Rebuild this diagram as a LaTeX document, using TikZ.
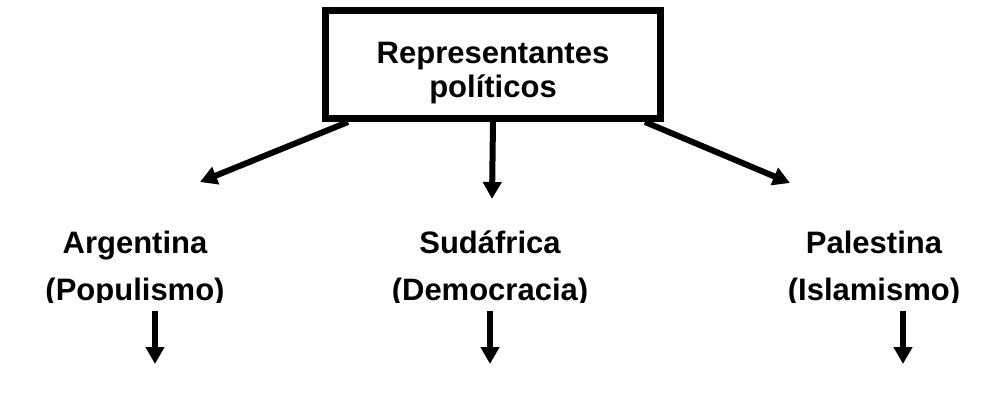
\documentclass[tikz,border=0pt]{standalone}
\usepackage{fontspec}
\setmainfont{Liberation Sans}
\usetikzlibrary{arrows.meta,calc}

\tikzset{
  flecha/.style={line width=3pt, -{Triangle[width=9pt,length=8.5pt]}},
  pais/.style={font=\fontsize{15.5}{23.5}\selectfont\bfseries, align=center, inner sep=0pt, anchor=base},
}

\begin{document}
\begin{tikzpicture}[x=0.5pt,y=-0.5pt]
    \useasboundingbox (0,0) rectangle (990,417);

    % caja de arriba
    \node[draw, line width=3.5pt, minimum width=167.5pt, minimum height=54pt, inner sep=0pt, align=center,
          font=\fontsize{15.5}{17}\selectfont\bfseries] (repre) at (493,64.5) {\rule{0pt}{19.5pt}Representantes\\políticos};

    % los tres paises (cortados abajo como en el original)
    \begin{scope}
        \clip (0,0) rectangle (990,302);
        \node[pais] (arg) at (135,300) {Argentina\\(Populismo)};
        \node[pais] (sud) at (490,300) {Sudáfrica\\(Democracia)};
        \node[pais] (pal) at (874,300) {Palestina\\(Islamismo)};
    \end{scope}

    \coordinate (pArg) at (200,182);
    \coordinate (pSud) at (492,199);
    \coordinate (pPal) at (790,183);
    \coordinate (fArg) at (155,364);
    \coordinate (fSud) at (490,364);
    \coordinate (fPal) at (903,364);

    \draw[flecha] ([xshift=-72.5pt]repre.south) -- (pArg);
    \draw[flecha] (repre.south) -- (pSud);
    \draw[flecha] ([xshift=76pt]repre.south) -- (pPal);

    \draw[flecha] ([yshift=-2pt]arg.south -| fArg) -- (fArg);
    \draw[flecha] ([yshift=-2pt]sud.south -| fSud) -- (fSud);
    \draw[flecha] ([yshift=-2pt]pal.south -| fPal) -- (fPal);

\end{tikzpicture}
\end{document}
